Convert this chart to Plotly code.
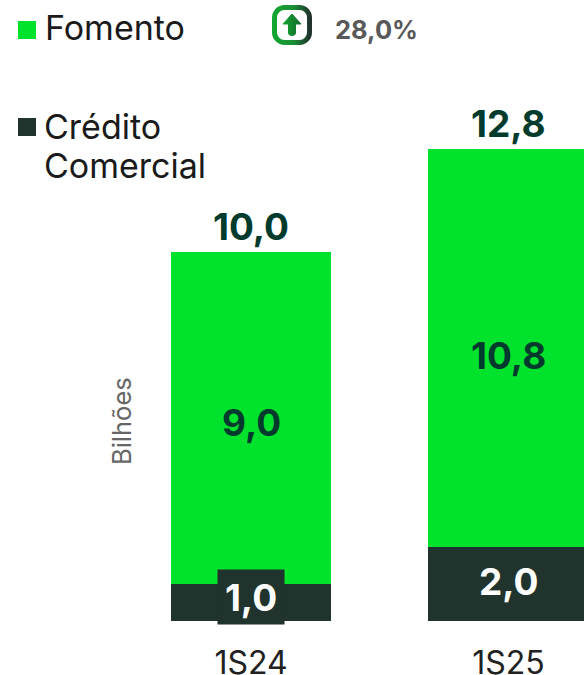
import base64
import plotly.graph_objects as go

categories = ["1S24", "1S25"]
credito = [1.0, 2.0]
fomento = [9.0, 10.8]
totals = ["10,0", "12,8"]
fomento_labels = ["9,0", "10,8"]
credito_labels = ["1,0", "2,0"]
growth = "28,0%"

GREEN = "#00E22B"
DARK = "#20332D"
LABEL = "#003B2D"
FONT = "Inter"
W, H = 584, 675
PLOT_H = 621
fomento_label_shift = [-4, -8]
credito_label_shift = [6, 3]


def px(x):
    return x / W


def py(y):
    return 1 - y / PLOT_H


fig = go.Figure()
fig.add_bar(x=categories, y=credito, name="Crédito Comercial", marker_color=DARK, marker_line_width=0,
            showlegend=False)
fig.add_bar(x=categories, y=fomento, name="Fomento", marker_color=GREEN, marker_line_width=0,
            showlegend=False)

annotations = []
for i, (cat, c, f, t) in enumerate(zip(categories, credito, fomento, totals)):
    annotations.append(dict(x=cat, y=c + f, yshift=1, text=f"<b>{t}</b>", showarrow=False, yanchor="bottom",
                            font=dict(family=FONT, size=37, color=LABEL)))
    annotations.append(dict(x=cat, y=c + f / 2, yshift=fomento_label_shift[i], text=f"<b>{fomento_labels[i]}</b>",
                            showarrow=False, font=dict(family=FONT, size=37, color=LABEL)))
    box = dict(bgcolor=DARK, width=66, height=54, borderpad=0) if i == 0 else {}
    annotations.append(dict(x=cat, y=c / 2, yshift=credito_label_shift[i], text=f"<b>{credito_labels[i]}</b>",
                            showarrow=False, font=dict(family=FONT, size=37, color="white"), **box))


def note(x, y, text, size, color, anchor="left", angle=0):
    annotations.append(dict(xref="paper", yref="paper", x=px(x), y=py(y), text=text, showarrow=False,
                            xanchor=anchor, yanchor="middle", align="left", textangle=angle,
                            font=dict(family=FONT, size=size, color=color)))


note(43, 28, "Fomento", 34, "#1a1a1a")
note(42, 126, "Crédito", 34, "#1a1a1a")
note(42, 165, "Comercial", 34, "#1a1a1a")
note(333, 30, f"<b>{growth}</b>", 25.5, "#595959")
note(121, 421, "Bilhões", 25.5, "#666666", anchor="center", angle=-90)

shapes = [
    dict(type="rect", xref="paper", yref="paper", x0=px(18), x1=px(36), y0=py(21), y1=py(39),
         fillcolor=GREEN, line_width=0),
    dict(type="rect", xref="paper", yref="paper", x0=px(18), x1=px(36), y0=py(118), y1=py(136),
         fillcolor=DARK, line_width=0),
]

icon = """<svg xmlns='http://www.w3.org/2000/svg' width='42' height='42' viewBox='0 0 42 42'>
<defs><linearGradient id='g' x1='0' y1='0' x2='1' y2='0'><stop offset='0' stop-color='#12A52F'/><stop offset='0.55' stop-color='#1A8F35'/><stop offset='1' stop-color='#20332D'/></linearGradient>
<linearGradient id='a' x1='0' y1='0' x2='1' y2='0'><stop offset='0' stop-color='#12A52F'/><stop offset='1' stop-color='#146B30'/></linearGradient></defs>
<rect x='3.5' y='3.5' width='35' height='35' rx='10' fill='white' stroke='url(#g)' stroke-width='5'/>
<path d='M21 10 L30 20 H24.5 V29 Q24.5 31.5 21 31.5 Q17.5 31.5 17.5 29 V20 H12 Z' fill='url(#a)' stroke='url(#a)' stroke-linejoin='round' stroke-width='1'/>
</svg>"""
icon_src = "data:image/svg+xml;base64," + base64.b64encode(icon.encode()).decode()

fig.update_layout(
    width=W, height=H, barmode="stack", bargap=0.378, showlegend=False,
    margin=dict(l=0, r=0, t=0, b=54, autoexpand=False),
    paper_bgcolor="white", plot_bgcolor="white",
    font=dict(family=FONT),
    xaxis=dict(type="category", range=[-0.9748, 1.2932], showgrid=False, zeroline=False, showline=False,
               ticks="", ticklabelstandoff=20, tickfont=dict(family=FONT, size=32, color="#222222")),
    yaxis=dict(range=[0, 16.83], visible=False),
    annotations=annotations,
    shapes=shapes,
    images=[dict(source=icon_src, xref="paper", yref="paper", x=px(271), y=py(4), sizex=42 / W, sizey=42 / PLOT_H,
                 xanchor="left", yanchor="top", sizing="stretch", layer="above")],
)
fig.write_html("out.html", config=dict(displayModeBar=False),
               post_script="document.body.style.margin='0';document.documentElement.style.overflow='hidden';")
